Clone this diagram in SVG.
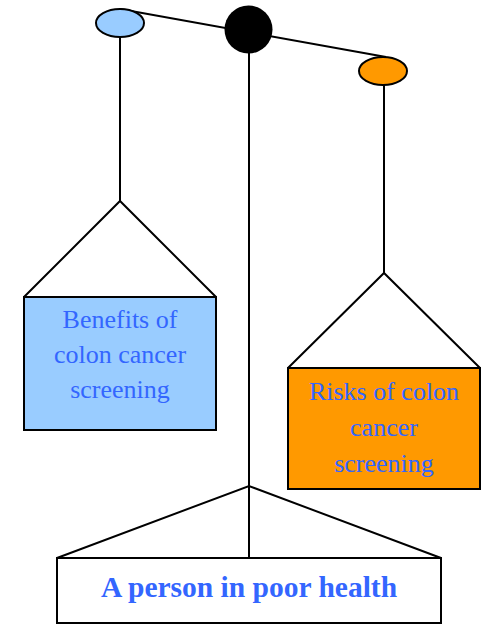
<svg xmlns="http://www.w3.org/2000/svg" width="486" height="627" viewBox="0 0 486 627">
<style>
.ln{stroke:#000;stroke-width:2;fill:none}
.bx{stroke:#000;stroke-width:2}
.t{font-family:"Liberation Serif","Times New Roman",serif;font-size:26px;fill:#3366FF;text-anchor:middle}
.tb{font-family:"Liberation Serif","Times New Roman",serif;font-size:29.5px;font-weight:bold;fill:#3366FF;text-anchor:middle}
</style>
<rect width="486" height="627" fill="#fff"/>
<g id="connectors">
<line class="ln" x1="120" y1="9" x2="386" y2="57"/>
<line class="ln" x1="120" y1="38" x2="120" y2="201"/>
<line class="ln" x1="249" y1="50" x2="249" y2="558"/>
<line class="ln" x1="384" y1="85" x2="384" y2="273"/>
<polyline class="ln" points="24,297 120,201 216,297"/>
<polyline class="ln" points="288,368 384,273 480,368"/>
<polyline class="ln" points="57,558 249,486 441,558"/>
</g>
<g id="pivot"><circle cx="248.5" cy="29.5" r="24" fill="#000"/></g>
<g id="left-pan"><ellipse class="bx" cx="120" cy="23" rx="24" ry="14" fill="#99CCFF"/></g>
<g id="right-pan"><ellipse class="bx" cx="383" cy="71" rx="24" ry="14" fill="#FF9900"/></g>
<g id="benefits">
<rect class="bx" x="24" y="297" width="192" height="133" fill="#99CCFF"/>
<text class="t" x="120" y="328">Benefits of</text>
<text class="t" x="120" y="363">colon cancer</text>
<text class="t" x="120" y="398">screening</text>
</g>
<g id="risks">
<rect class="bx" x="288" y="368" width="192" height="121" fill="#FF9900"/>
<text class="t" x="384" y="400">Risks of colon</text>
<text class="t" x="384" y="436">cancer</text>
<text class="t" x="384" y="472">screening</text>
</g>
<g id="person">
<rect class="bx" x="57" y="558" width="384" height="65" fill="#fff"/>
<text class="tb" x="249" y="597">A person in poor health</text>
</g>
</svg>
